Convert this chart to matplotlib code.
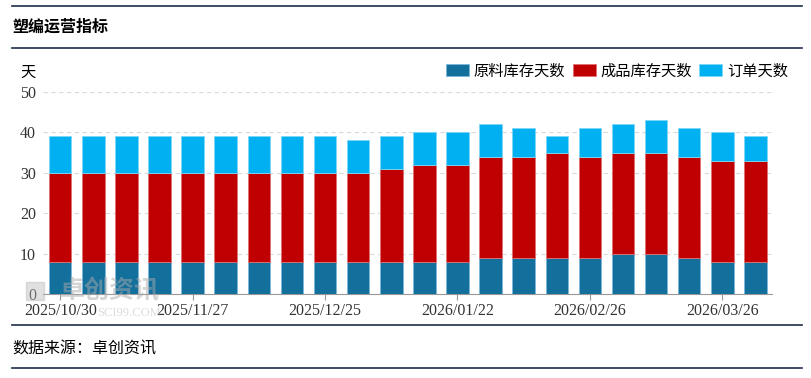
import numpy as np
import matplotlib.pyplot as plt
from matplotlib.lines import Line2D
from matplotlib.patches import Rectangle

plt.rcParams['font.family'] = ['Noto Sans CJK SC', 'DejaVu Sans']

# DATA
dates = ['2025/10/30', '2025/11/06', '2025/11/13', '2025/11/20', '2025/11/27',
         '2025/12/04', '2025/12/11', '2025/12/18', '2025/12/25', '2026/01/01',
         '2026/01/08', '2026/01/15', '2026/01/22', '2026/01/29', '2026/02/05',
         '2026/02/12', '2026/02/26', '2026/03/05', '2026/03/12', '2026/03/19',
         '2026/03/26', '2026/04/02']
raw_days = [8, 8, 8, 8, 8, 8, 8, 8, 8, 8, 8, 8, 8, 9, 9, 9, 9, 10, 10, 9, 8, 8]
product_days = [22, 22, 22, 22, 22, 22, 22, 22, 22, 22, 23, 24, 24, 25, 25, 26,
                25, 25, 25, 25, 25, 25]
order_days = [9, 9, 9, 9, 9, 9, 9, 9, 9, 8, 8, 8, 8, 8, 7, 4, 7, 7, 8, 7, 7, 6]
series_names = ['原料库存天数', '成品库存天数', '订单天数']
colors = ['#136f9c', '#c00000', '#00b0f0']

fig = plt.figure(figsize=(8.12, 3.78), dpi=100)
W, H = 812, 378

# frame lines, title and source
for yy in [6, 48, 325, 368]:
    fig.add_artist(Line2D([12 / W, 802 / W], [1 - yy / H, 1 - yy / H],
                          color='#1f2d4a', lw=1.2))
fig.text(12 / W, 1 - 27 / H, '塑编运营指标', fontsize=11.5, fontweight='bold',
         va='center', ha='left')
fig.text(12 / W, 1 - 349 / H, '数据来源：卓创资讯', fontsize=11.5,
         va='center', ha='left')

ax = fig.add_axes([43 / W, 1 - 294 / H, (772 - 43) / W, (294 - 92) / H])
x = np.arange(len(dates))
raw = np.array(raw_days)
prod = np.array(product_days)
order = np.array(order_days)
ax.bar(x, raw, width=0.68, color=colors[0], edgecolor='#7ab8dc', lw=0.6,
       label=series_names[0], zorder=3)
ax.bar(x, prod, bottom=raw, width=0.68, color=colors[1], edgecolor='#e07070',
       lw=0.6, label=series_names[1], zorder=3)
ax.bar(x, order, bottom=raw + prod, width=0.68, color=colors[2],
       edgecolor='#80d8f8', lw=0.6, label=series_names[2], zorder=3)

ax.set_xlim(-0.52, len(dates) - 0.5)
ax.set_ylim(0, 50)
ax.set_yticks(range(0, 51, 10))
ax.grid(axis='y', ls=(0, (4, 3)), color='#d9d9d9', lw=0.8, zorder=0)
for s in ['top', 'right', 'left']:
    ax.spines[s].set_visible(False)
ax.spines['bottom'].set_color('#999999')
ax.tick_params(axis='y', length=0, labelsize=11.5, pad=5)
tick_idx = list(range(0, len(dates), 4))
ax.set_xticks(tick_idx)
ax.set_xticklabels([dates[i] for i in tick_idx])
ax.tick_params(axis='x', length=4, color='#999999', labelsize=11.5, pad=2.5)
for lab in ax.get_xticklabels() + ax.get_yticklabels():
    lab.set_family('Liberation Serif')
    lab.set_color('#333333')

fig.text(20 / W, 1 - 72 / H, '天', fontsize=11, va='center', ha='left')

ax.legend(loc='center right', bbox_to_anchor=(1.03, 1.104), ncol=3,
          frameon=False, fontsize=11, handlelength=1.5, handleheight=0.8,
          handletextpad=0.3, columnspacing=0.5, borderaxespad=0)

# watermark
fig.add_artist(Rectangle((26 / W, 1 - 300 / H), 18 / W, 18 / H,
                         color='#bbbbbb', alpha=0.45, zorder=10))
fig.text(60 / W, 1 - 298 / H, '卓创资讯', fontsize=18, color='#aaaaaa',
         alpha=0.5, fontweight='bold', zorder=10)
fig.text(97 / W, 1 - 316 / H, 'SCI99.COM', fontsize=9, color='#bbbbbb',
         alpha=0.5, zorder=1, family='Liberation Serif')

fig.savefig('out.png', dpi=100)
